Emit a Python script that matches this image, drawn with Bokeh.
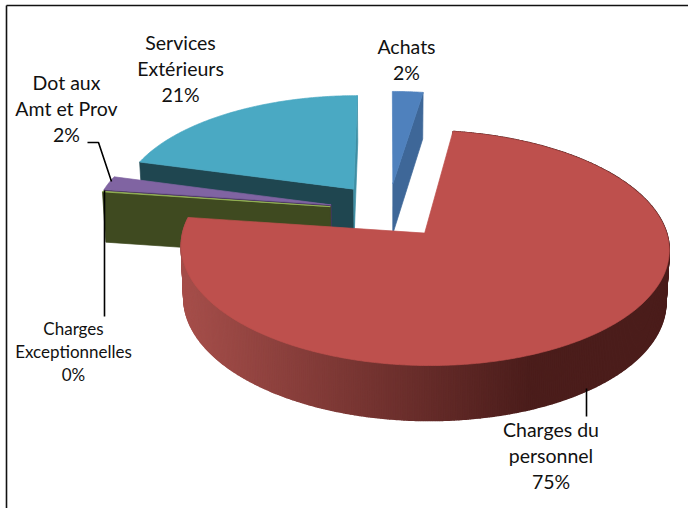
import math
from bokeh.plotting import figure
from bokeh.models import ColumnDataSource
from bokeh.core.properties import value
from bokeh.embed import file_html
from bokeh.resources import INLINE

# data (clockwise from 12 o'clock)
categories = ["Achats", "Charges du personnel", "Charges Exceptionnelles", "Dot aux Amt et Prov", "Services Extérieurs"]
values = [2.4, 74.8, 0.1, 2.0, 20.7]
label_lines = [["Achats"], ["Charges du", "personnel"], ["Charges", "Exceptionnelles"], ["Dot aux", "Amt et Prov"], ["Services", "Extérieurs"]]

top_colors = ["#4f81bd", "#be504d", "#9bbb59", "#8064a2", "#4aa9c3"]
cut_colors = ["#3e6798", "#7a2f2d", "#3f4a20", "#4a3560", "#1f4650"]

# projection
CX, CY, A, B, K, EXPL, XS = 388.0, 210.0, 236.0, 110.0, 0.1235, 0.25, 0.988


def proj(u, v, low=False):
    d = 1 + K * v
    x = CX + A * u / d
    y = CY - B * v / d
    if low:
        x = CX + (x - CX) * XS
        y = y + 50.9 - 3.45 * v
    return x, y


def mix(c1, c2, t):
    a = [int(c1[i:i + 2], 16) for i in (1, 3, 5)]
    b = [int(c2[i:i + 2], 16) for i in (1, 3, 5)]
    return "#%02x%02x%02x" % tuple(round(a[i] + (b[i] - a[i]) * t) for i in range(3))


def add(xs, ys, cols, pts, col):
    xs.append([q[0] for q in pts])
    ys.append([q[1] for q in pts])
    cols.append(col)


total = sum(values)
slices = []
ang = 0.0
for i, val in enumerate(values):
    a0 = ang
    a1 = ang + 360 * val / total
    ang = a1
    m = math.radians((a0 + a1) / 2)
    ou, ov = EXPL * math.sin(m), EXPL * math.cos(m)
    n = max(2, int(a1 - a0) * 2)
    arc = [(ou + math.sin(math.radians(a0 + (a1 - a0) * j / n)), ov + math.cos(math.radians(a0 + (a1 - a0) * j / n))) for j in range(n + 1)]
    slices.append(dict(i=i, a0=a0, a1=a1, o=(ou, ov), arc=arc))

xs, ys, cols = [], [], []
wx, wy, wc = [], [], []
txs, tys, tcs = [], [], []
# back to front: services, dot, exceptionnelles, achats, personnel
for idx in [4, 3, 2, 0]:
    s = slices[idx]
    o, arc = s["o"], s["arc"]
    first, last = arc[0], arc[-1]
    if idx == 0:
        add(xs, ys, cols, [proj(*o), proj(*last), proj(*last, True), proj(*o, True)], cut_colors[idx])
    else:
        add(xs, ys, cols, [proj(*o), proj(*first), proj(*first, True), proj(*o, True)], cut_colors[idx])
        if idx == 4:
            add(xs, ys, cols, [proj(*o), proj(*last), proj(*last, True), proj(*o, True)], "#3f8ea3")
    add(xs, ys, cols, [proj(*o)] + [proj(*q) for q in arc], top_colors[idx])

red = slices[1]
for j in range(len(red["arc"]) - 1):
    q0, q1 = red["arc"][j], red["arc"][j + 1]
    p0, p1 = proj(*q0), proj(*q1)
    t = min(1, max(0, (p0[0] - 185) / 345))
    add(wx, wy, wc, [p0, p1, proj(*q1, True), proj(*q0, True)], mix("#a54e4a", "#4b1d1b", t))
add(txs, tys, tcs, [proj(*red["o"])] + [proj(*q) for q in red["arc"]], top_colors[1])

p = figure(width=688, height=508, x_range=(0, 688), y_range=(508, 0), x_axis_location=None, y_axis_location=None,
           toolbar_location=None, output_backend="svg", min_border=0, outline_line_color=None,
           styles={"position": "absolute", "left": "0px", "top": "0px"})
p.grid.visible = False
p.patches("xs", "ys", source=ColumnDataSource(dict(xs=xs, ys=ys, c=cols)), fill_color="c", line_color="c", line_width=0.7)
p.patches("xs", "ys", source=ColumnDataSource(dict(xs=wx, ys=wy, c=wc)), fill_color="c", line_color="c", line_width=1.5)
p.patches("xs", "ys", source=ColumnDataSource(dict(xs=txs, ys=tys, c=tcs)), fill_color="c", line_color="c", line_width=0.7)

# frame
p.line([6, 6], [508, 5], line_color="#111111", line_width=1.6)
p.line([6, 688], [5, 5], line_color="#111111", line_width=1.6)

# leaders
for lx, ly in [([87, 98, 111], [142, 142, 181]), ([104, 104], [190, 316]), ([586, 586], [388, 416])]:
    p.line(lx, ly, line_color="black", line_width=1.6)

# labels
anchors = [(406, 46, 26, 19.5), (550.5, 429, 26, 19.5), (73, 328, 23, 17), (66, 82, 26, 19.5), (180, 42, 26, 19.5)]
for lines, val, (ax, ay, lh, fs) in zip(label_lines, values, anchors):
    rows = lines + [f"{val:.0f}%"]
    p.text([ax] * len(rows), [ay + lh * j for j in range(len(rows))], text=rows, text_align="center",
           text_baseline="middle", text_font=value("Lato"), text_font_size=f"{fs}px", text_color="#111111")

open("out.html", "w").write(file_html(p, INLINE))
